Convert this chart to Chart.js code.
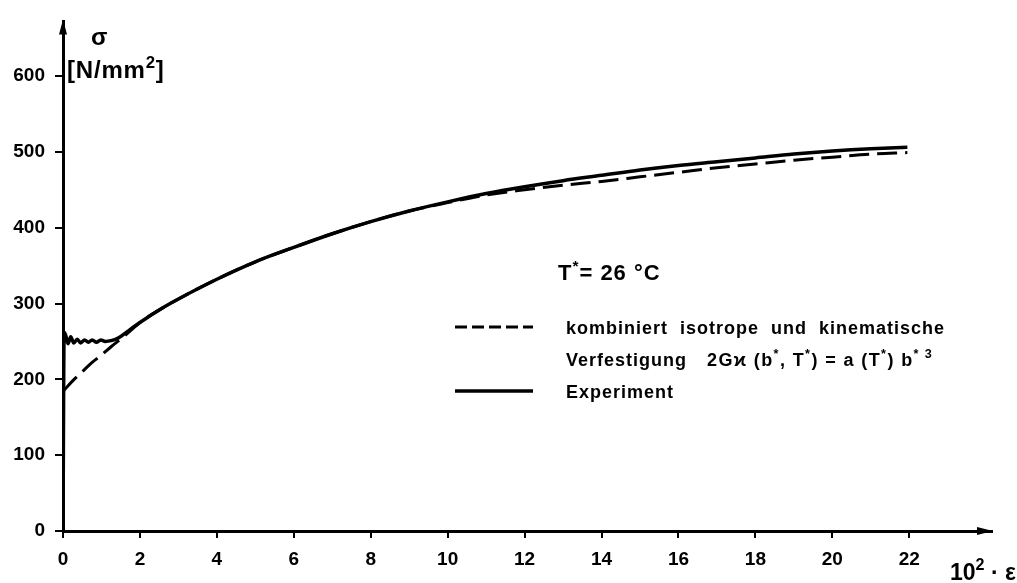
<!DOCTYPE html>
<html>
<head>
<meta charset="utf-8">
<script src="https://cdn.jsdelivr.net/npm/chart.js@4"></script>
<style>
  html, body { margin: 0; padding: 0; background: #fff; }
  #wrap { width: 1017px; height: 583px; }
</style>
</head>
<body>
<div id="wrap"><canvas id="chart" width="1017" height="583"></canvas></div>
<script>
// Experiment: strain (10^2 * eps) and stress sigma [N/mm^2]
const epsExp = [0, 0.03, 0.07, 0.13, 0.2, 0.28, 0.37, 0.46, 0.56, 0.66, 0.76, 0.87, 0.98, 1.1, 1.25, 1.42, 1.7, 2.0, 2.65, 3, 4, 5, 6, 7, 8, 9, 10, 11, 12, 13, 14, 15, 16, 17, 18, 19, 20, 21, 21.95];
const sigExp = [0, 262, 258, 247, 256, 248, 253, 248, 252, 249, 252, 249, 252, 250, 251, 254, 264, 275, 296, 306, 332, 355, 374, 392, 408, 422, 434, 445, 454, 462, 469, 476, 482, 487, 492, 497, 501, 504, 506];

// combined isotropic / kinematic hardening model
const epsModel = [0, 0.25, 0.5, 0.75, 1.0, 1.25, 1.5, 1.75, 2.0, 2.65, 3, 4, 5, 6, 7, 8, 9, 10, 11, 12, 13, 14, 15, 16, 17, 18, 19, 20, 21, 21.95];
const sigModel = [184, 198, 210, 222, 232, 243, 253, 264, 275, 296, 306, 332, 355, 374, 392, 408, 422, 433, 443, 450, 456, 461, 467, 473, 479, 484, 489, 493, 497, 499];

const xTickLast = 22;
const yTickLast = 600;

const FONT = '"Liberation Sans", Arial, sans-serif';
const ink = '#000';

function pts(xs, ys) {
  return xs.map((x, i) => ({ x, y: ys[i] }));
}

// draws text made of pieces, some raised as superscripts
function richText(ctx, parts, x, y, size, spacing) {
  ctx.save();
  ctx.fillStyle = ink;
  ctx.textBaseline = 'alphabetic';
  ctx.textAlign = 'left';
  ctx.letterSpacing = (spacing || 0) + 'px';
  let cx = x;
  for (const [txt, sup] of parts) {
    const fs = sup ? size * 0.7 : size;
    ctx.font = 'bold ' + fs + 'px ' + FONT;
    ctx.fillText(txt, cx, sup ? y - size * 0.42 : y);
    cx += ctx.measureText(txt).width;
  }
  ctx.restore();
  return cx;
}

const annotations = {
  id: 'annotations',
  afterDraw(chart) {
    const ctx = chart.ctx;
    const xs = chart.scales.x, ys = chart.scales.y;
    const x0 = xs.getPixelForValue(0), y0 = ys.getPixelForValue(0);

    // axis arrows
    ctx.save();
    ctx.fillStyle = ink;
    ctx.beginPath();
    ctx.moveTo(x0, chart.chartArea.top - 2);
    ctx.lineTo(x0 - 4, chart.chartArea.top + 13);
    ctx.lineTo(x0 + 4, chart.chartArea.top + 13);
    ctx.closePath();
    ctx.fill();
    ctx.beginPath();
    ctx.moveTo(chart.chartArea.right + 1, y0);
    ctx.lineTo(chart.chartArea.right - 15, y0 - 4);
    ctx.lineTo(chart.chartArea.right - 15, y0 + 4);
    ctx.closePath();
    ctx.fill();

    // legend samples
    ctx.strokeStyle = ink;
    ctx.lineWidth = 3;
    ctx.setLineDash([12, 5]);
    ctx.beginPath();
    ctx.moveTo(455, 327);
    ctx.lineTo(533, 327);
    ctx.stroke();
    ctx.setLineDash([]);
    ctx.lineWidth = 3.5;
    ctx.beginPath();
    ctx.moveTo(455, 391);
    ctx.lineTo(533, 391);
    ctx.stroke();
    ctx.restore();

    // axis titles
    richText(ctx, [['σ', false]], 91, 45, 24);
    richText(ctx, [['[N/mm', false], ['2', true], [']', false]], 67, 78, 24, 0.8);
    richText(ctx, [['10', false], ['2', true], [' · ε', false]], 950, 580, 23);

    // temperature and legend texts
    richText(ctx, [['T', false], ['*', true], ['= 26 °C', false]], 558, 280, 22, 1);
    richText(ctx, [['kombiniert  isotrope  und  kinematische', false]], 566, 334, 18, 1);
    const cx = richText(ctx, [['Verfestigung', false]], 566, 366, 18, 1);
    richText(ctx, [['2Gϰ (b', false], ['*', true], [', T', false], ['*', true],
                   [') = a (T', false], ['*', true], [') b', false], ['* 3', true]], cx + 20, 366, 18, 1.4);
    richText(ctx, [['Experiment', false]], 566, 398, 18, 1);
  }
};

const tickFont = { family: FONT, size: 19, weight: 'bold' };

new Chart(document.getElementById('chart'), {
  type: 'line',
  data: {
    datasets: [
      {
        label: 'Experiment',
        data: pts(epsExp, sigExp),
        borderColor: ink,
        borderWidth: 3.5,
        pointRadius: 0,
        cubicInterpolationMode: 'monotone'
      },
      {
        label: 'kombiniert isotrope und kinematische Verfestigung',
        data: pts(epsModel, sigModel),
        borderColor: ink,
        borderWidth: 3,
        borderDash: [20, 8],
        pointRadius: 0,
        cubicInterpolationMode: 'monotone'
      }
    ]
  },
  options: {
    responsive: false,
    animation: false,
    layout: { padding: { left: 0, top: 13, right: 25, bottom: 0 } },
    plugins: { legend: { display: false }, tooltip: { enabled: false } },
    scales: {
      x: {
        type: 'linear',
        min: 0,
        max: 24.15,
        afterBuildTicks: s => { s.ticks = s.ticks.filter(t => t.value <= xTickLast); },
        afterFit: s => { s.height = 52; },
        ticks: { stepSize: 2, color: ink, font: tickFont, padding: 10, maxRotation: 0 },
        grid: { drawOnChartArea: false, drawTicks: true, tickLength: 7, color: ink, lineWidth: 2 },
        border: { display: true, color: ink, width: 3 }
      },
      y: {
        min: 0,
        max: 672,
        afterBuildTicks: s => { s.ticks = s.ticks.filter(t => t.value <= yTickLast); },
        afterFit: s => { s.width = 63; },
        ticks: { stepSize: 100, color: ink, font: tickFont, padding: 10 },
        grid: { drawOnChartArea: false, drawTicks: true, tickLength: 8, color: ink, lineWidth: 2 },
        border: { display: true, color: ink, width: 3 }
      }
    }
  },
  plugins: [annotations]
});
</script>
</body>
</html>
